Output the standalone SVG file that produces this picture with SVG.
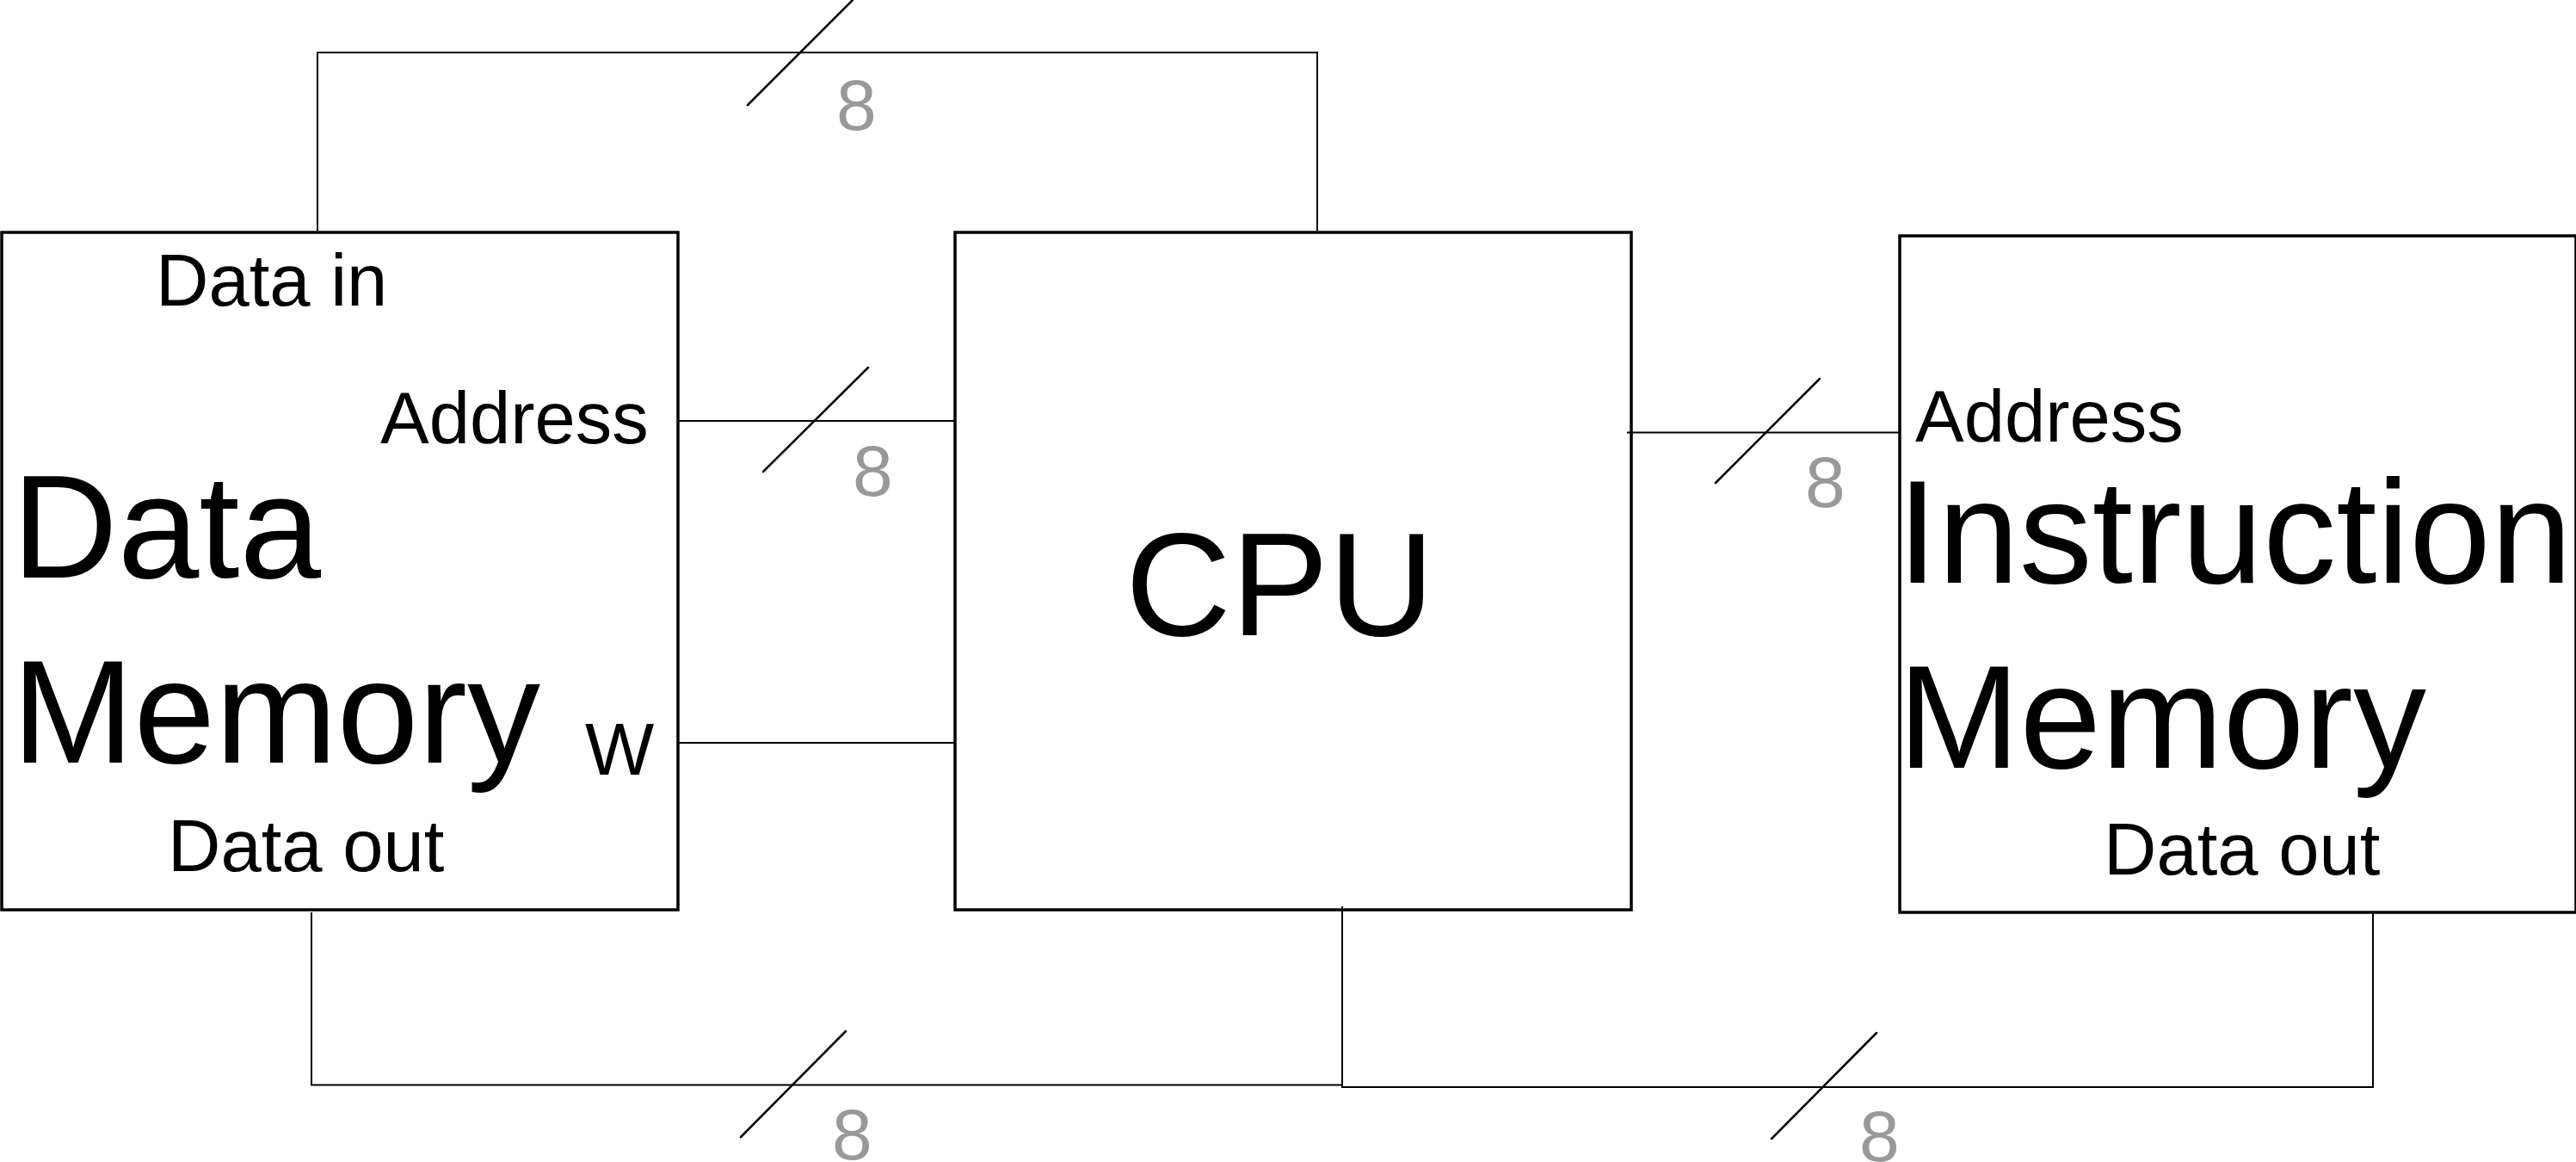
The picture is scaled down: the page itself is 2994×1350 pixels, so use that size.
<svg xmlns="http://www.w3.org/2000/svg" width="2994" height="1350" viewBox="0 0 2994 1350">
<style>
.box{fill:#fff;stroke:#000;stroke-width:3.5}
.wire{fill:none;stroke:#000;stroke-width:2}
.slash{stroke:#000;stroke-width:2.5;stroke-linecap:round}
.t{font-family:"Liberation Sans",Arial,sans-serif;fill:#000}
.s{font-size:85px}
.b{font-size:170px}
.n{font-family:"Liberation Sans",Arial,sans-serif;font-size:84px;fill:#999}
</style>
<rect width="2994" height="1350" fill="#fff"/>
<g id="data-memory">
<rect class="box" x="2" y="270" width="786" height="787"/>
<text class="t s" x="181" y="355">Data in</text>
<text class="t s" x="442" y="515">Address</text>
<text class="t b" x="14" y="671">Data</text>
<text class="t b" x="14" y="886">Memory</text>
<text class="t s" x="680" y="900">W</text>
<text class="t s" x="195" y="1012">Data out</text>
</g>
<g id="cpu">
<rect class="box" x="1110" y="270" width="786" height="787"/>
<text class="t b" x="1308" y="738">CPU</text>
</g>
<g id="instruction-memory">
<rect class="box" x="2208" y="274" width="786" height="786"/>
<text class="t s" x="2226" y="513">Address</text>
<text class="t b" x="2205" y="677">Instruction</text>
<text class="t b" x="2206" y="892">Memory</text>
<text class="t s" x="2445" y="1016">Data out</text>
</g>
<g id="connectors">
<polyline class="wire" points="369,268 369,61 1531,61 1531,268"/>
<line class="slash" x1="869" y1="122" x2="991" y2="0"/>
<text class="n" x="972" y="151">8</text>
<line class="wire" x1="788" y1="489" x2="1110" y2="489"/>
<line class="slash" x1="887" y1="548" x2="1009" y2="427"/>
<text class="n" x="991" y="576">8</text>
<line class="wire" x1="789" y1="863" x2="1110" y2="863"/>
<line class="wire" x1="1891" y1="502.5" x2="2208" y2="502.5"/>
<line class="slash" x1="1994" y1="561" x2="2115" y2="440"/>
<text class="n" x="2098" y="589">8</text>
<polyline class="wire" points="362,1060 362,1260.5 1560,1260.5"/>
<line class="slash" x1="861" y1="1321" x2="983" y2="1198"/>
<text class="n" x="967" y="1347">8</text>
<polyline class="wire" points="1560,1053 1560,1263 2758,1263 2758,1060"/>
<line class="slash" x1="2059" y1="1323" x2="2181" y2="1200"/>
<text class="n" x="2161" y="1349">8</text>
</g>
</svg>
